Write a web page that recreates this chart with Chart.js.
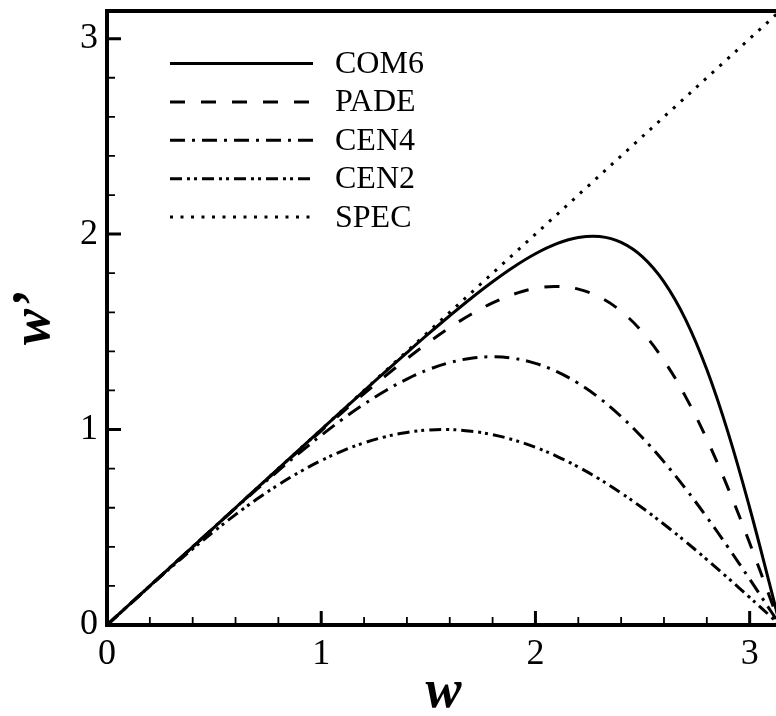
<!DOCTYPE html>
<html>
<head>
<meta charset="utf-8">
<script src="https://cdn.jsdelivr.net/npm/chart.js@4/dist/chart.umd.min.js"></script>
<style>
  html, body { margin: 0; padding: 0; background: #fff; overflow: hidden; }
  canvas { display: block; }
</style>
</head>
<body>
<canvas id="chart" width="790" height="716"></canvas>
<script>
const wValues = [0, 0.1, 0.2, 0.3, 0.4, 0.5, 0.6, 0.7, 0.8, 0.9, 1.0, 1.1, 1.2, 1.3, 1.4, 1.5,
  1.6, 1.7, 1.8, 1.9, 2.0, 2.1, 2.2, 2.3, 2.4, 2.5, 2.6, 2.7, 2.8, 2.9, 3.0, 3.1, 3.1416];
const com6 = [0, 0.1000, 0.2000, 0.3000, 0.4000, 0.5000, 0.6000, 0.6999, 0.7999, 0.8998, 0.9995,
  1.0989, 1.1980, 1.2963, 1.3936, 1.4893, 1.5824, 1.6720, 1.7563, 1.8331, 1.8994, 1.9510,
  1.9827, 1.9877, 1.9578, 1.8838, 1.7559, 1.5653, 1.3070, 0.9820, 0.6000, 0.1799, 0];
const pade = [0, 0.1000, 0.2000, 0.3000, 0.3999, 0.4998, 0.5995, 0.6990, 0.7980, 0.8964, 0.9937,
  1.0897, 1.1836, 1.2748, 1.3624, 1.4451, 1.5216, 1.5899, 1.6480, 1.6931, 1.7223, 1.7320,
  1.7184, 1.6774, 1.6049, 1.4976, 1.3529, 1.1699, 0.9501, 0.6975, 0.4192, 0.1246, 0];
const cen4 = [0, 0.1000, 0.2000, 0.2999, 0.3997, 0.4990, 0.5975, 0.6947, 0.7899, 0.8821, 0.9704,
  1.0535, 1.1301, 1.1988, 1.2581, 1.3065, 1.3425, 1.3648, 1.3722, 1.3637, 1.3385, 1.2962,
  1.2366, 1.1599, 1.0666, 0.9578, 0.8346, 0.6986, 0.5519, 0.3964, 0.2347, 0.0693, 0];
const cen2 = [0, 0.0998, 0.1987, 0.2955, 0.3894, 0.4794, 0.5646, 0.6442, 0.7174, 0.7833, 0.8415,
  0.8912, 0.9320, 0.9636, 0.9854, 0.9975, 0.9996, 0.9917, 0.9738, 0.9463, 0.9093, 0.8632,
  0.8085, 0.7457, 0.6755, 0.5985, 0.5155, 0.4274, 0.3350, 0.2392, 0.1411, 0.0416, 0];
const specX = [0, 3.1416];
const specY = [0, 3.1416];

const xTicks = [0, 1, 2, 3];
const yTicks = [0, 1, 2, 3];
const axisMax = 3.1416;

const FONT = '"Liberation Serif", "Times New Roman", serif';

const pts = (xs, ys) => xs.map((x, i) => ({ x, y: ys[i] }));

function lineSet(label, xs, ys, dash) {
  return {
    label,
    data: pts(xs, ys),
    borderColor: '#000',
    borderWidth: 3,
    borderDash: dash,
    borderCapStyle: 'butt',
    pointRadius: 0,
    fill: false,
    tension: 0.4,
  };
}

// inward major/minor ticks, frame and in-plot legend
const framePlugin = {
  id: 'frame',
  afterDraw(chart) {
    const { ctx, chartArea: a, scales: { x, y } } = chart;
    ctx.save();
    ctx.strokeStyle = '#000';
    ctx.lineCap = 'butt';

    for (let v = 0; v <= axisMax + 1e-9; v = Math.round((v + 0.2) * 10) / 10) {
      const major = Math.abs(v - Math.round(v)) < 1e-6;
      ctx.lineWidth = major ? 3 : 1.8;
      const px = x.getPixelForValue(v);
      const py = y.getPixelForValue(v);
      const lx = major ? 14 : 8;
      ctx.beginPath();
      ctx.moveTo(px, a.bottom);
      ctx.lineTo(px, a.bottom - lx);
      ctx.moveTo(a.left, py);
      ctx.lineTo(a.left + lx, py);
      ctx.stroke();
    }

    ctx.lineWidth = 4;
    ctx.strokeRect(a.left, a.top, a.right - a.left, a.bottom - a.top);

    // legend
    ctx.font = '32px ' + FONT;
    ctx.fillStyle = '#000';
    ctx.textBaseline = 'middle';
    chart.data.datasets.forEach((ds, i) => {
      const ly = 63.5 + i * 38.4;
      ctx.lineWidth = ds.borderWidth;
      ctx.setLineDash(ds.borderDash);
      ctx.beginPath();
      ctx.moveTo(170, ly);
      ctx.lineTo(313, ly);
      ctx.stroke();
      ctx.setLineDash([]);
      ctx.fillText(ds.label, 335, ly + 1);
    });
    ctx.restore();
  },
};

new Chart(document.getElementById('chart'), {
  type: 'line',
  data: {
    datasets: [
      lineSet('COM6', wValues, com6, []),
      lineSet('PADE', wValues, pade, [15, 16]),
      lineSet('CEN4', wValues, cen4, [15, 7, 3, 7]),
      lineSet('CEN2', wValues, cen2, [12, 5, 3, 4, 3, 5]),
      lineSet('SPEC', specX, specY, [3, 7.5]),
    ],
  },
  options: {
    responsive: false,
    animation: false,
    devicePixelRatio: 1,
    layout: { padding: { left: 0, top: 11, right: 10, bottom: 0 } },
    plugins: { legend: { display: false }, tooltip: { enabled: false } },
    scales: {
      x: {
        type: 'linear',
        min: 0,
        max: axisMax,
        grid: { display: false, drawTicks: false },
        border: { display: false },
        afterBuildTicks: s => { s.ticks = xTicks.map(v => ({ value: v })); },
        afterFit: s => { s.height = 91; s.paddingLeft = 0; s.paddingRight = 0; },
        ticks: { color: '#000', padding: 8, maxRotation: 0, font: { family: FONT, size: 36 } },
        title: {
          display: true,
          text: 'w',
          color: '#000',
          padding: { top: 0, bottom: 0 },
          font: { family: FONT, size: 54, weight: 'bold', style: 'italic', lineHeight: 0.85 },
        },
      },
      y: {
        type: 'linear',
        min: 0,
        max: axisMax,
        grid: { display: false, drawTicks: false },
        border: { display: false },
        afterBuildTicks: s => { s.ticks = yTicks.map(v => ({ value: v })); },
        afterFit: s => { s.width = 107; s.paddingTop = 0; s.paddingBottom = 0; },
        ticks: { color: '#000', padding: 9, font: { family: FONT, size: 36 } },
        title: {
          display: true,
          text: 'w\u2019',
          color: '#000',
          padding: { top: 12, bottom: 0 },
          font: { family: FONT, size: 54, weight: 'bold', style: 'italic', lineHeight: 0.85 },
        },
      },
    },
  },
  plugins: [framePlugin],
});
</script>
</body>
</html>
